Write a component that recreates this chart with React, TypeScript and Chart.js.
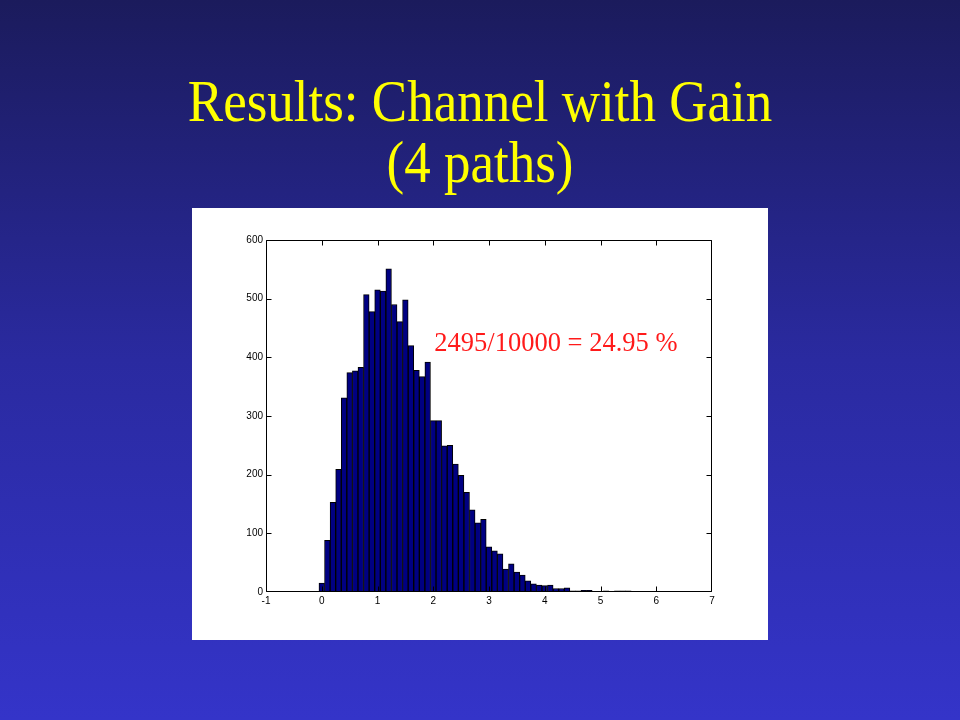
import React, { useEffect, useRef } from "react";
import { Chart, registerables } from "chart.js";

Chart.register(...registerables);

const titleLines = ["Results: Channel with Gain", "(4 paths)"];

const binCenters = [
  0.0, 0.1, 0.2, 0.3, 0.4, 0.5, 0.6, 0.7, 0.8, 0.9,
  1.0, 1.1, 1.2, 1.3, 1.4, 1.5, 1.6, 1.7, 1.8, 1.9,
  2.0, 2.1, 2.2, 2.3, 2.4, 2.5, 2.6, 2.7, 2.8, 2.9,
  3.0, 3.1, 3.2, 3.3, 3.4, 3.5, 3.6, 3.7, 3.8, 3.9,
  4.0, 4.1, 4.2, 4.3, 4.4, 4.5, 4.6, 4.7, 4.8, 4.9,
  5.0, 5.1, 5.2, 5.3, 5.4, 5.5,
];

const counts = [
  15, 88, 153, 209, 331, 374, 377, 383, 507, 478,
  515, 513, 551, 490, 461, 498, 420, 378, 367, 392,
  292, 292, 249, 250, 218, 199, 170, 140, 118, 124,
  77, 70, 65, 39, 48, 34, 29, 19, 14, 12,
  11, 12, 6, 6, 7, 2, 2, 3, 3, 1,
  1, 2, 0, 2, 2, 2,
];

const xTickValues = [-1, 0, 1, 2, 3, 4, 5, 6, 7];
const yTickValues = [0, 100, 200, 300, 400, 500, 600];

const annotationText = "2495/10000 = 24.95 %";
const annotationPos = { x: 2.02, y: 410 };

const boxPlugin = {
  id: "matlabBox",
  afterDatasetsDraw(chart: any) {
    const { ctx, chartArea, scales } = chart;
    const { left, right, top, bottom } = chartArea;
    const xs = scales.x;
    const ys = scales.y;
    ctx.save();
    ctx.strokeStyle = "#000";
    ctx.lineWidth = 1;
    const L = Math.round(left) + 0.5;
    const R = Math.round(right) - 0.5;
    const T = Math.round(top) + 0.5;
    const B = Math.round(bottom) - 0.5;
    const clamp = (v: number, a: number, b: number) => Math.min(b, Math.max(a, v));
    ctx.beginPath();
    ctx.rect(L, T, R - L, B - T);
    const tl = 5;
    xTickValues.forEach((v) => {
      const px = clamp(Math.round(xs.getPixelForValue(v)) + 0.5, L, R);
      ctx.moveTo(px, B);
      ctx.lineTo(px, B - tl);
      ctx.moveTo(px, T);
      ctx.lineTo(px, T + tl);
    });
    yTickValues.forEach((v) => {
      const py = clamp(Math.round(ys.getPixelForValue(v)) + 0.5, T, B);
      ctx.moveTo(L, py);
      ctx.lineTo(L + tl, py);
      ctx.moveTo(R, py);
      ctx.lineTo(R - tl, py);
    });
    ctx.stroke();

    ctx.fillStyle = "#ff1a1a";
    ctx.font = "26.5px 'Liberation Serif', 'Times New Roman', serif";
    ctx.textAlign = "left";
    ctx.textBaseline = "alphabetic";
    ctx.fillText(
      annotationText,
      xs.getPixelForValue(annotationPos.x),
      ys.getPixelForValue(annotationPos.y)
    );
    ctx.restore();
  },
};

function HistChart() {
  const ref = useRef<HTMLCanvasElement | null>(null);
  useEffect(() => {
    if (!ref.current) return;
    const chart = new Chart(ref.current, {
      type: "bar",
      data: {
        datasets: [
          {
            data: binCenters.map((x, i) => ({ x, y: counts[i] })),
            backgroundColor: "#000082",
            borderColor: "#000000",
            borderWidth: 1,
            barPercentage: 1,
            categoryPercentage: 1,
          } as any,
        ],
      },
      options: {
        animation: false,
        responsive: false,
        devicePixelRatio: 1,
        layout: { padding: { left: 44, right: 56, top: 32, bottom: 28 } },
        plugins: {
          legend: { display: false },
          tooltip: { enabled: false },
        },
        scales: {
          x: {
            type: "linear",
            min: -1,
            max: 7,
            offset: false,
            afterBuildTicks: (s: any) => {
              s.ticks = xTickValues.map((v) => ({ value: v }));
            },
            afterFit: (s: any) => {
              s.height = 20;
            },
            grid: { display: false, drawTicks: false, offset: false },
            border: { display: false },
            ticks: {
              padding: 3,
              color: "#000",
              font: { family: "'Liberation Sans', Arial, sans-serif", size: 10 },
              maxRotation: 0,
              autoSkip: false,
            },
          },
          y: {
            min: 0,
            max: 600,
            afterBuildTicks: (s: any) => {
              s.ticks = yTickValues.map((v) => ({ value: v }));
            },
            afterFit: (s: any) => {
              s.width = 30;
            },
            grid: { display: false, drawTicks: false },
            border: { display: false },
            ticks: {
              padding: 3,
              color: "#000",
              font: { family: "'Liberation Sans', Arial, sans-serif", size: 10 },
              autoSkip: false,
            },
          },
        },
      },
      plugins: [boxPlugin],
    });
    return () => chart.destroy();
  }, []);
  return <canvas ref={ref} width={576} height={432} style={{ display: "block" }} />;
}

export default function App() {
  return (
    <div
      style={{
        position: "fixed",
        left: 0,
        top: 0,
        width: 960,
        height: 720,
        background: "linear-gradient(to bottom, #1b1b5c 0%, #2a2aa0 50%, #3434c9 100%)",
        overflow: "hidden",
      }}
    >
      {titleLines.map((line, i) => (
        <div
          key={i}
          style={{
            position: "absolute",
            left: 0,
            width: 960,
            top: 73 + i * 61,
            height: 61,
            lineHeight: "61px",
            textAlign: "center",
            color: "#ffff00",
            fontFamily: "'Liberation Serif', 'Times New Roman', serif",
            fontSize: 53,
            whiteSpace: "nowrap",
            transform: "scaleY(1.1)",
            transformOrigin: "50% 80%",
          }}
        >
          {line}
        </div>
      ))}
      <div
        style={{
          position: "absolute",
          left: 192,
          top: 208,
          width: 576,
          height: 432,
          background: "#ffffff",
        }}
      >
        <HistChart />
      </div>
    </div>
  );
}
